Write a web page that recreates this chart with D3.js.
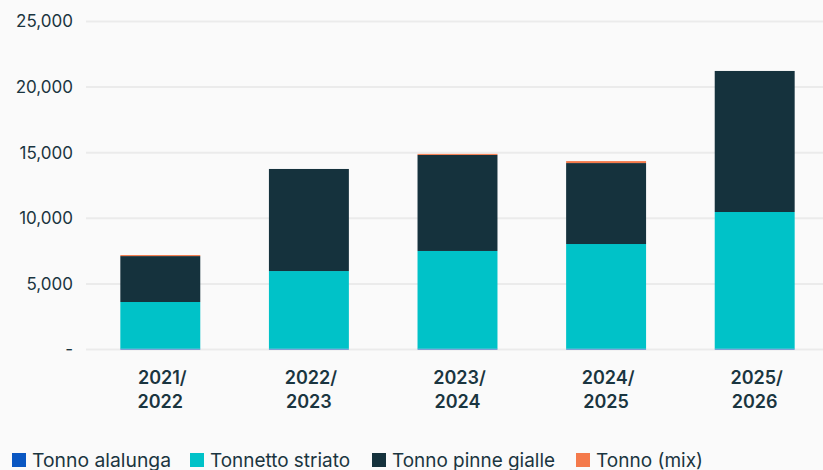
<!DOCTYPE html>
<html>
<head>
<meta charset="utf-8">
<script src="https://cdn.jsdelivr.net/npm/d3@7"></script>
<style>
  body { margin: 0; background: #fafafa; }
  svg { display: block; font-family: Inter, "Noto Sans", sans-serif; }
</style>
</head>
<body>
<div id="chart"></div>
<script>
// Data
var years = ['2021/2022', '2022/2023', '2023/2024', '2024/2025', '2025/2026'];
var seriesNames = ['Tonno alalunga', 'Tonnetto striato', 'Tonno pinne gialle', 'Tonno (mix)'];
var alalunga = [60, 60, 60, 60, 60];
var striato = [3560, 5920, 7450, 7980, 10420];
var pinneGialle = [3500, 7780, 7320, 6170, 10750];
var mix = [80, 0, 80, 150, 0];
var yTicks = [0, 5000, 10000, 15000, 20000, 25000];
var colors = ['#0a57c2', '#00c2c8', '#15323d', '#f47a4b'];

var svgWidth = 823, svgHeight = 470;
var svg = d3.select('#chart').append('svg')
    .attr('width', svgWidth)
    .attr('height', svgHeight);

var rows = years.map(function(y, i) {
    return { year: y, a: alalunga[i], s: striato[i], p: pinneGialle[i], m: mix[i] };
});
var stack = d3.stack().keys(['a', 's', 'p', 'm']);
var stacked = stack(rows);

var x = d3.scaleBand()
    .domain(years)
    .range([86, 829])
    .paddingInner(0.462)
    .paddingOuter(0.231);

var y = d3.scaleLinear()
    .domain([0, 25000])
    .range([349.5, 21.5]);

// Gridlines
svg.append('g').selectAll('line')
    .data(yTicks)
    .enter().append('line')
    .attr('x1', 86)
    .attr('x2', svgWidth)
    .attr('y1', function(d) { return y(d); })
    .attr('y2', function(d) { return y(d); })
    .attr('stroke', '#ebebeb')
    .attr('stroke-width', 2);

// Y axis labels
svg.append('g').selectAll('text')
    .data(yTicks)
    .enter().append('text')
    .attr('x', 73)
    .attr('y', function(d) { return y(d); })
    .attr('dy', '0.35em')
    .attr('text-anchor', 'end')
    .style('font-size', '17px')
    .attr('fill', '#1a3540')
    .text(function(d) { return d === 0 ? '-' : d3.format(',')(d); });

// Bars
svg.append('g').selectAll('g')
    .data(stacked)
    .enter().append('g')
    .attr('fill', function(d, i) { return colors[i]; })
    .selectAll('rect')
    .data(function(d) { return d; })
    .enter().append('rect')
    .attr('x', function(d) { return x(d.data.year); })
    .attr('width', x.bandwidth())
    .attr('y', function(d) { return y(d[1]); })
    .attr('height', function(d) { return y(d[0]) - y(d[1]); });

// X labels (two lines)
var xl = svg.append('g').selectAll('text')
    .data(years)
    .enter().append('text')
    .attr('text-anchor', 'middle')
    .attr('fill', '#1a3540')
    .style('font-size', '18px')
    .style('font-weight', 600);

xl.append('tspan')
    .attr('x', function(d) { return x(d) + x.bandwidth() / 2 + 2; })
    .attr('y', 384)
    .text(function(d) { return d.split('/')[0] + '/'; });
xl.append('tspan')
    .attr('x', function(d) { return x(d) + x.bandwidth() / 2; })
    .attr('y', 408)
    .text(function(d) { return d.split('/')[1]; });

// Legend
var legendX = [12, 190, 372, 576];
var legendW = [139, 140, 163, 107];
var legendG = svg.selectAll('.legend')
    .data(seriesNames)
    .enter().append('g')
    .attr('class', 'legend')
    .attr('transform', function(d, i) { return 'translate(' + legendX[i] + ',453)'; });

legendG.append('rect')
    .attr('width', 14)
    .attr('height', 14)
    .attr('fill', function(d, i) { return colors[i]; });

legendG.append('text')
    .attr('x', 20)
    .attr('y', 14)
    .attr('fill', '#1a3540')
    .style('font-size', '19px')
    .attr('textLength', function(d, i) { return legendW[i]; })
    .attr('lengthAdjust', 'spacingAndGlyphs')
    .text(function(d) { return d; });
</script>
</body>
</html>
